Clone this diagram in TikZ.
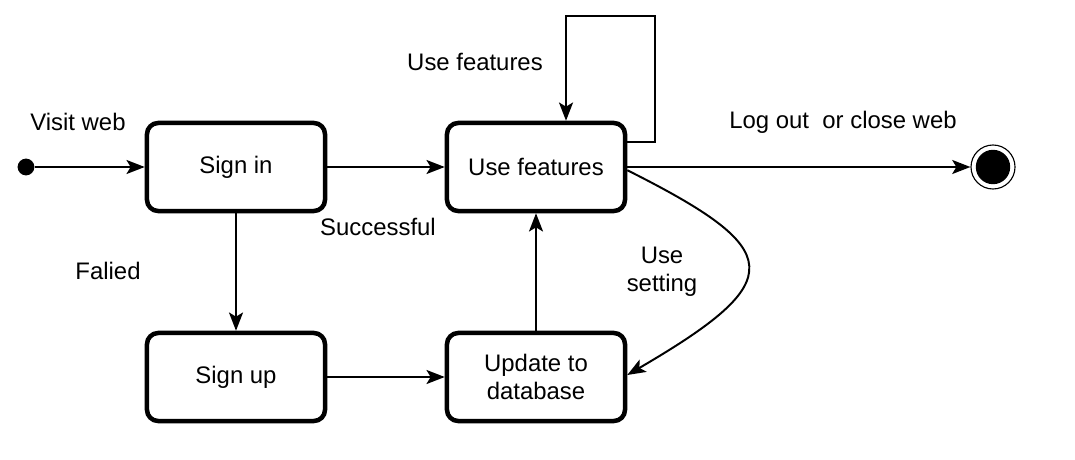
\documentclass[tikz,border=0pt]{standalone}
\usepackage{fontspec}
\setmainfont{Liberation Sans}
\usetikzlibrary{arrows.meta}

\begin{document}
\begin{tikzpicture}[x=0.025cm, y=-0.025cm,
    state/.style={draw, line width=3.2pt, rounded corners=8pt, minimum width=4.45cm, minimum height=2.2cm, align=center, font=\fontsize{17}{20}\selectfont},
    conn/.style={line width=1.4pt, -{Stealth[length=13pt, width=10pt, inset=3pt]}},
    lbl/.style={font=\fontsize{17}{20}\selectfont, align=center}]
    \useasboundingbox (0,0) rectangle (1075,459);
    % states
    \node[state] (signin) at (236,167) {Sign in};
    \node[state] (usefeat) at (536,167) {Use features};
    \node[state] (signup) at (236,377) {Sign up};
    \node[state] (update) at (536,377) {Update to\\database};
    % start and end
    \node[circle, fill, inner sep=0pt, minimum size=0.42cm] (init) at (26,167) {};
    \node[circle, draw, line width=0.8pt, minimum size=1.1cm] (fin) at (993,167) {};
    \fill (fin) circle (0.43cm);
    % transitions
    \draw[conn] (init) -- (signin);
    \draw[conn] (signin) -- (usefeat);
    \draw[conn] (signin) -- (signup);
    \draw[conn] (signup) -- (update);
    \draw[conn] (update) -- (usefeat);
    \draw[conn] (usefeat) -- (fin);
    \draw[conn] ([yshift=0.625cm]usefeat.east) -- ++(28,0) |- ([xshift=0.75cm]usefeat.north |- 0,16) -- ([xshift=0.75cm]usefeat.north);
    \draw[conn] ([yshift=-0.08cm]usefeat.east) .. controls (786,250) and (790,280) .. ([yshift=0.05cm]update.east);
    % labels
    \node[lbl] (lvisit) at (78,122) {Visit web};
    \node[lbl] (luse) at (475,62) {Use features};
    \node[lbl] (llog) at (843,122) {Log out\ \ or close web};
    \node[lbl] (lsucc) at (378,227) {Successful};
    \node[lbl] (lfail) at (108,271) {Falied};
    \node[lbl] (lset) at (662,272) {Use\\setting};
\end{tikzpicture}
\end{document}
